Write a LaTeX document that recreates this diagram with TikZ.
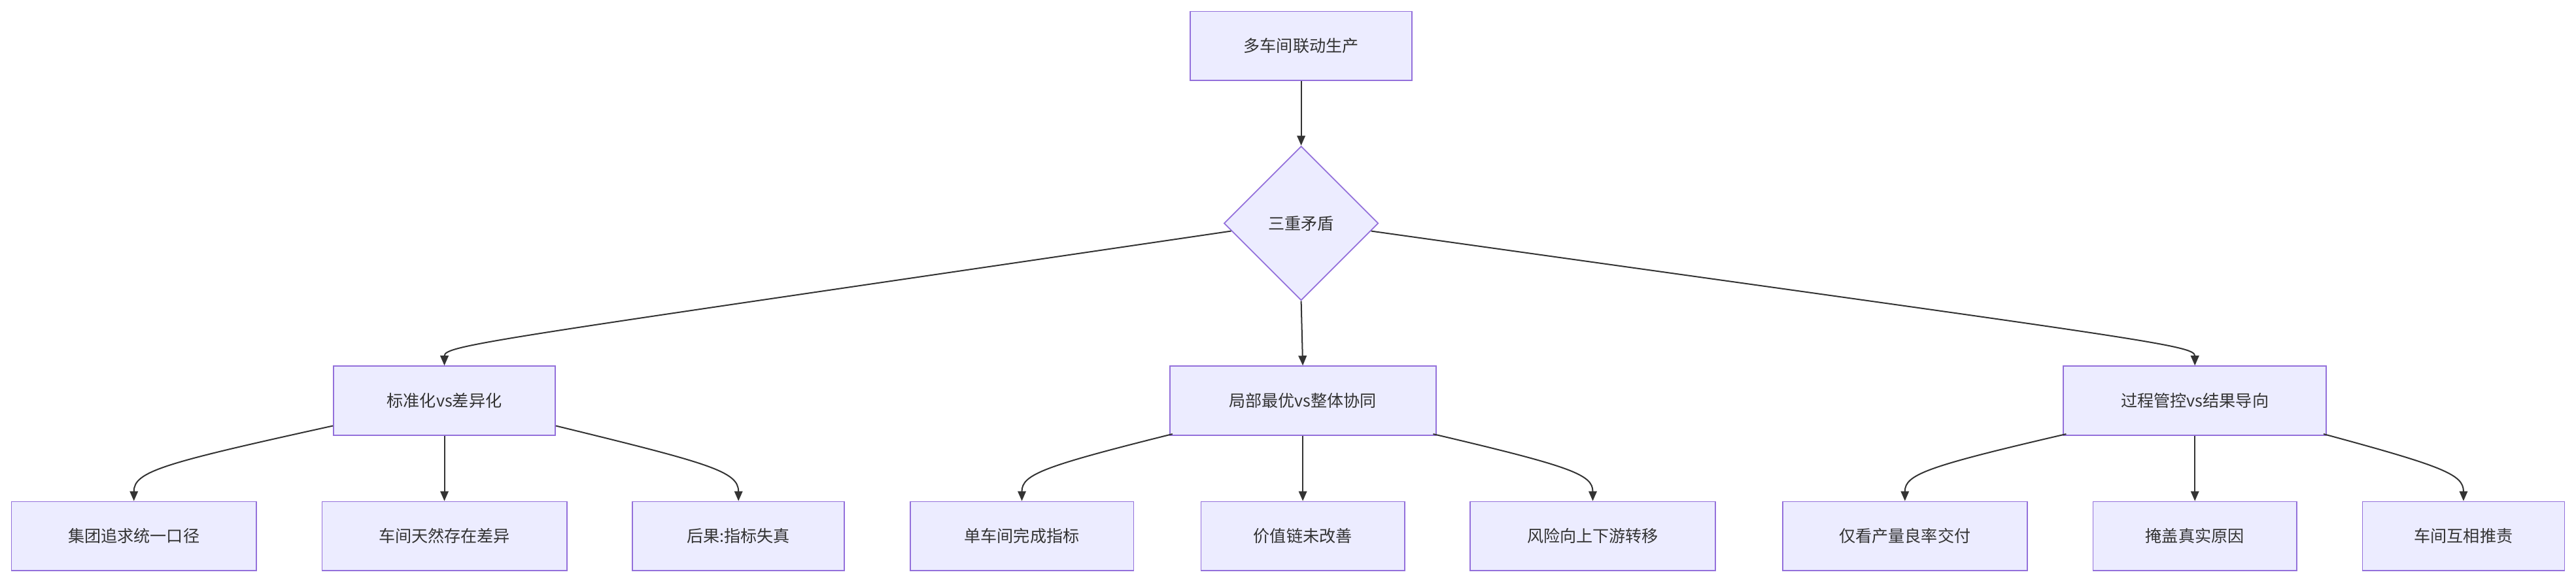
\documentclass[tikz,border=0pt]{standalone}
\usepackage{fontspec}
\setmainfont{Noto Sans CJK SC}
\usetikzlibrary{shapes.geometric,arrows.meta,calc}
\definecolor{nfill}{HTML}{ECECFF}
\definecolor{nline}{HTML}{9370DB}
\definecolor{eline}{HTML}{333333}
\begin{document}
\begin{tikzpicture}[x=1pt,y=-1pt,
  box/.style={draw=nline,fill=nfill,line width=0.7pt,minimum height=42pt,inner sep=0pt,font=\fontsize{10}{12}\selectfont,text=eline},
  dia/.style={draw=nline,fill=nfill,line width=0.7pt,diamond,minimum width=94pt,minimum height=94pt,inner sep=0pt,font=\fontsize{10}{12}\selectfont,text=eline},
  e/.style={draw=eline,line width=0.8pt,-{Triangle[length=6pt,width=5pt]}}]
\useasboundingbox (0,0) rectangle (1568,355);
\node[box,minimum width=135pt] (top) at (792,28) {多车间联动生产};
\node[dia] (dia) at (792,136) {三重矛盾};
\node[box,minimum width=135pt] (m1) at (270.5,244) {标准化vs差异化};
\node[box,minimum width=162pt] (m2) at (793,244) {局部最优vs整体协同};
\node[box,minimum width=160pt] (m3) at (1336,244) {过程管控vs结果导向};
\node[box,minimum width=149pt] (b1) at (81.5,326.5) {集团追求统一口径};
\node[box,minimum width=149pt] (b2) at (270.5,326.5) {车间天然存在差异};
\node[box,minimum width=129pt] (b3) at (449.5,326.5) {后果:指标失真};
\node[box,minimum width=136pt] (b4) at (622,326.5) {单车间完成指标};
\node[box,minimum width=124pt] (b5) at (793,326.5) {价值链未改善};
\node[box,minimum width=149pt] (b6) at (969.5,326.5) {风险向上下游转移};
\node[box,minimum width=149pt] (b7) at (1159.5,326.5) {仅看产量良率交付};
\node[box,minimum width=124pt] (b8) at (1336,326.5) {掩盖真实原因};
\node[box,minimum width=123pt] (b9) at (1499.5,326.5) {车间互相推责};
\draw[e] (top.south) -- (dia.north);
\draw[e] (dia.south) -- (m2.north);
\draw[e] ($(dia.west)!0.1!(dia.south)$) .. controls (300,207) and (270.5,210) .. (m1.north);
\draw[e] ($(dia.east)!0.1!(dia.south)$) .. controls (1306,207) and (1336,210) .. (m3.north);
\draw[e] ([yshift=6pt]m1.south west) .. controls (100,282) and (81.5,287) .. (b1.north);
\draw[e] (m1.south) -- (b2.north);
\draw[e] ([yshift=6pt]m1.south east) .. controls (431,282) and (449.5,287) .. (b3.north);
\draw[e] ([xshift=2pt,yshift=1pt]m2.south west) .. controls (635,284) and (622,289) .. (b4.north);
\draw[e] (m2.south) -- (b5.north);
\draw[e] ([xshift=-2pt,yshift=1pt]m2.south east) .. controls (956,284) and (969.5,289) .. (b6.north);
\draw[e] ([xshift=2pt,yshift=1pt]m3.south west) .. controls (1173,284) and (1159.5,289) .. (b7.north);
\draw[e] (m3.south) -- (b8.north);
\draw[e] ([xshift=-2pt,yshift=1pt]m3.south east) .. controls (1487,284) and (1499.5,289) .. (b9.north);
\end{tikzpicture}
\end{document}
